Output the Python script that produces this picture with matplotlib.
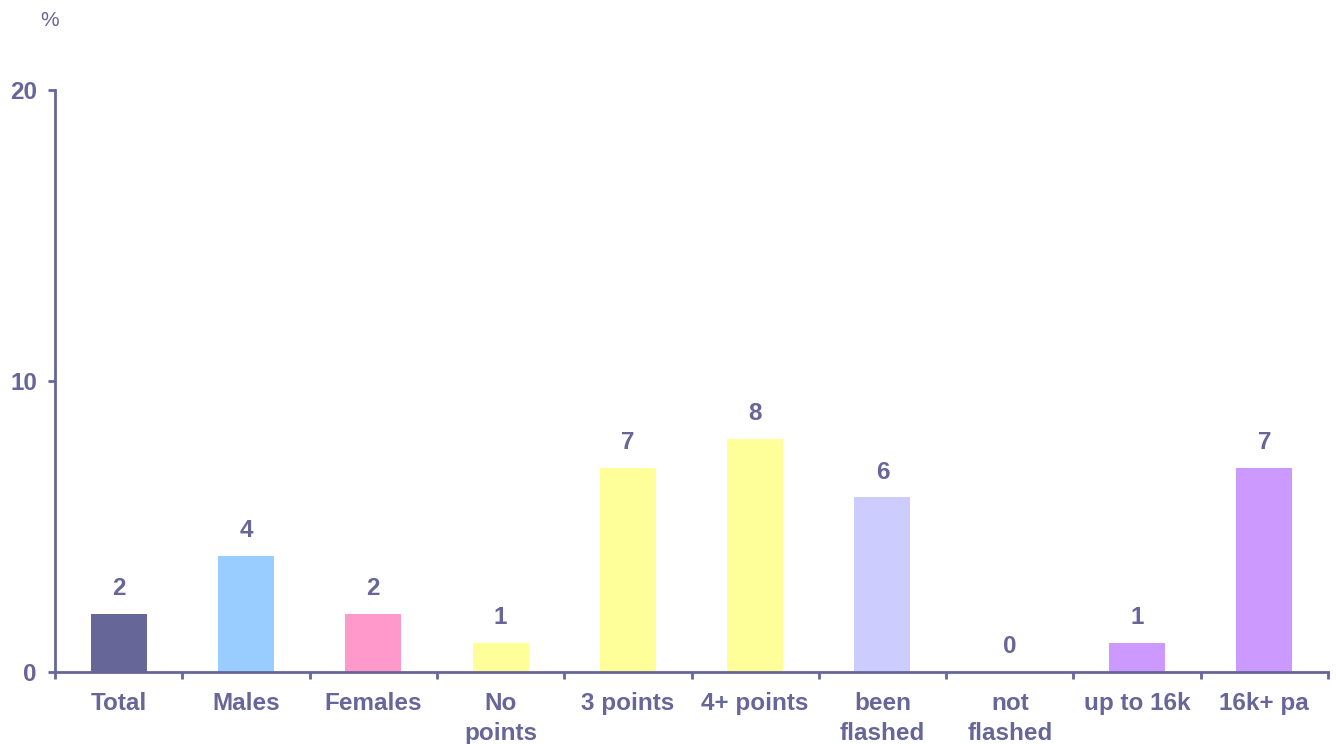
import matplotlib.pyplot as plt

categories = ["Total", "Males", "Females", "No\npoints", "3 points", "4+ points",
              "been\nflashed", "not\nflashed", "up to 16k", "16k+ pa"]
values = [2, 4, 2, 1, 7, 8, 6, 0, 1, 7]
bar_colors = ["#666699", "#99CCFF", "#FF99CC", "#FFFF99", "#FFFF99", "#FFFF99",
              "#CCCCFF", "#CCCCFF", "#CC99FF", "#CC99FF"]
y_ticks = [0, 10, 20]

ink = "#666699"
fsize = 17.5
plt.rcParams["font.family"] = ["Liberation Sans", "DejaVu Sans"]

fig = plt.figure(figsize=(13.36, 7.44), dpi=100)
ax = fig.add_axes([55 / 1336, 72 / 744, 1273 / 1336, 582 / 744])

x = range(len(categories))
bars = ax.bar(x, values, width=0.44, color=bar_colors)

for rect, v in zip(bars, values):
    ax.annotate(str(v), (rect.get_x() + rect.get_width() / 2, rect.get_height()),
                xytext=(0, 10), textcoords="offset points", ha="center", va="bottom",
                fontsize=fsize, fontweight="bold", color=ink)

ax.set_xlim(-0.5, len(categories) - 0.5)
ax.set_ylim(0, 20)

# category names sit at bar centres, tick marks at the boundaries
ax.set_xticks(list(x))
ax.set_xticklabels(categories, fontsize=fsize, fontweight="bold", color=ink,
                   linespacing=1.38, va="top")
ax.set_xticks([i - 0.5 for i in range(len(categories) + 1)], minor=True)
ax.tick_params(axis="x", which="major", length=0, pad=14.5)
ax.tick_params(axis="x", which="minor", length=5, width=2, color=ink, direction="out")

ax.set_yticks(y_ticks)
ax.set_yticklabels([str(t) for t in y_ticks], fontsize=fsize, fontweight="bold", color=ink)
ax.tick_params(axis="y", length=5, width=2, color=ink, direction="out", pad=8)

for side in ["top", "right"]:
    ax.spines[side].set_visible(False)
for side in ["left", "bottom"]:
    ax.spines[side].set_color(ink)
    ax.spines[side].set_linewidth(2)

fig.text(50 / 1336, 1 - 20 / 744, "%", ha="center", va="center", fontsize=15, color=ink)

fig.savefig("out.png", dpi=100)
